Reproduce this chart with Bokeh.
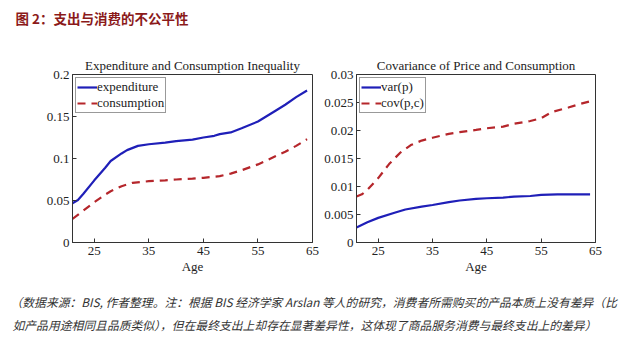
from bokeh.plotting import figure
from bokeh.layouts import column, row
from bokeh.models import Range1d, FixedTicker, Legend, LegendItem
from bokeh.core.properties import value
from bokeh.embed import file_html
from bokeh.resources import INLINE

# ---- data ----
main_title = "图 2：支出与消费的不公平性"
left_title = "Expenditure and Consumption Inequality"
right_title = "Covariance of Price and Consumption"
x_label = "Age"
note_line1 = "（数据来源：BIS, 作者整理。注：根据 BIS 经济学家 Arslan 等人的研究，消费者所需购买的产品本质上没有差异（比"
note_line2 = "如产品用途相同且品质类似），但在最终支出上却存在显著差异性，这体现了商品服务消费与最终支出上的差异）"

age_exp = [21, 22, 23, 25, 27, 28, 30, 31, 33, 35, 38, 40, 43, 45, 47, 48, 50, 52, 55, 58, 60, 62, 64]
expenditure = [0.0466, 0.0506, 0.058, 0.074, 0.089, 0.097, 0.106, 0.110, 0.115, 0.117, 0.119, 0.1206,
               0.1225, 0.125, 0.127, 0.129, 0.131, 0.136, 0.144, 0.156, 0.164, 0.173, 0.181]
age_con = [21, 23, 25, 27, 28, 30, 32, 35, 38, 40, 43, 45, 48, 50, 52, 55, 58, 60, 62, 64]
consumption = [0.028, 0.038, 0.048, 0.057, 0.061, 0.067, 0.071, 0.073, 0.074, 0.075, 0.076, 0.077,
               0.079, 0.082, 0.086, 0.093, 0.102, 0.108, 0.115, 0.123]

age_cov = [21, 22, 23, 25, 27, 29, 31, 33, 35, 38, 40, 43, 45, 48, 50, 53, 55, 57, 60, 62, 64]
cov_pc = [0.0082, 0.0086, 0.0094, 0.0115, 0.0140, 0.0160, 0.0174, 0.0182, 0.0187, 0.0194, 0.0197,
          0.0201, 0.0204, 0.0207, 0.0212, 0.0217, 0.0222, 0.0233, 0.0241, 0.0247, 0.0252]
age_var = [21, 23, 25, 28, 30, 33, 35, 38, 40, 43, 45, 48, 50, 53, 55, 58, 60, 64]
var_p = [0.0027, 0.0036, 0.0044, 0.0053, 0.0059, 0.0064, 0.0067, 0.0072, 0.0075, 0.0078, 0.0079,
         0.0080, 0.0082, 0.0083, 0.0085, 0.0086, 0.0086, 0.0086]

x_ticks = [25, 35, 45, 55, 65]
left_yticks = [0, 0.05, 0.1, 0.15, 0.2]
left_ytick_labels = {0: "0", 0.05: "0.05", 0.1: "0.1", 0.15: "0.15", 0.2: "0.2"}
right_yticks = [0, 0.005, 0.01, 0.015, 0.02, 0.025, 0.03]
right_ytick_labels = {0: "0", 0.005: "0.005", 0.01: "0.01", 0.015: "0.015", 0.02: "0.02",
                      0.025: "0.025", 0.03: "0.03"}

BLUE = "#1f1fb8"
RED = "#b5262b"
SERIF = "Liberation Serif"
CJK = "Noto Sans CJK SC"


def blank(w, h):
    f = figure(width=w, height=h, x_range=Range1d(0, w), y_range=Range1d(h, 0),
               output_backend="svg", toolbar_location=None, min_border=0)
    f.axis.visible = False
    f.grid.visible = False
    f.outline_line_color = None
    return f


def panel(w, title, xs1, ys1, name1, xs2, ys2, name2, ymax, yticks, ylabels, bl, br):
    p = figure(width=w, height=240, x_range=Range1d(21, 65), y_range=Range1d(0, ymax),
               output_backend="svg", toolbar_location=None,
               min_border_left=bl, min_border_right=br, min_border_top=29, min_border_bottom=43)
    p.title.text = title
    p.title.align = "center"
    p.title.text_font = SERIF
    p.title.text_font_size = "13px"
    p.title.text_font_style = "normal"
    p.title.text_color = "#222222"
    p.title.standoff = 3
    p.grid.visible = False
    p.outline_line_color = "#333333"
    p.outline_line_width = 1
    for ax in (p.xaxis[0], p.yaxis[0]):
        ax.major_label_text_font = SERIF
        ax.major_label_text_font_size = "13px"
        ax.major_label_text_color = "#222222"
        ax.major_tick_in = 4
        ax.major_tick_out = 0
        ax.minor_tick_in = 0
        ax.minor_tick_out = 0
        ax.axis_line_color = "#333333"
        ax.major_tick_line_color = "#333333"
    p.xaxis.ticker = FixedTicker(ticks=x_ticks)
    p.xaxis.major_label_standoff = 4
    p.xaxis.axis_label = x_label
    p.xaxis.axis_label_text_font = SERIF
    p.xaxis.axis_label_text_font_size = "13px"
    p.xaxis.axis_label_text_font_style = "normal"
    p.xaxis.axis_label_text_color = "#222222"
    p.xaxis.axis_label_standoff = 1
    p.yaxis.ticker = FixedTicker(ticks=yticks)
    p.yaxis.major_label_overrides = ylabels
    p.yaxis.major_label_standoff = 3

    r1 = p.line(xs1, ys1, line_color=BLUE, line_width=2.2)
    r2 = p.line(xs2, ys2, line_color=RED, line_width=2.2, line_dash="8 6")
    leg = Legend(items=[LegendItem(label=name1, renderers=[r1]),
                        LegendItem(label=name2, renderers=[r2])],
                 location="top_left")
    leg.margin = 3
    leg.padding = 1
    leg.spacing = 0
    leg.glyph_width = 20
    leg.glyph_height = 16
    leg.label_height = 16
    leg.label_standoff = 0
    leg.label_text_font = SERIF
    leg.label_text_font_size = "13px"
    leg.label_text_color = "#222222"
    leg.border_line_color = "#333333"
    leg.border_line_width = 1
    leg.background_fill_alpha = 1
    p.add_layout(leg, "center")
    return p


header = blank(640, 45)
header.text(x=[15], y=[17], text=[main_title], text_font=value(CJK), text_font_size="13.5px",
            text_font_style="bold", text_color="#8b1a1a", text_baseline="middle", text_align="left")

left = panel(321, left_title, age_exp, expenditure, "expenditure", age_con, consumption, "consumption",
             0.2, left_yticks, left_ytick_labels, 72, 9)
right = panel(319, right_title, age_var, var_p, "var(p)", age_cov, cov_pc, "cov(p,c)",
              0.03, right_yticks, right_ytick_labels, 33, 45)

footer = blank(640, 57)
footer.text(x=[10, 12], y=[16, 39], text=[note_line1, note_line2], text_font=value(CJK),
            text_font_size="11.8px", text_font_style="italic", text_color="#333333",
            text_baseline="middle", text_align="left")

layout = column(header, row(left, right), footer)
open("out.html", "w").write(file_html(layout, INLINE))
